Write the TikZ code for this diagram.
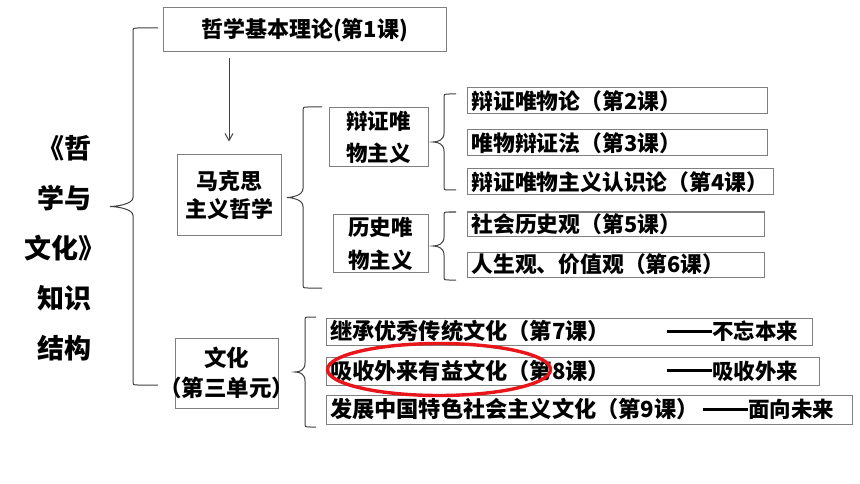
\documentclass[tikz,border=0pt]{standalone}
\usepackage{fontspec}
\setmainfont{Noto Sans CJK SC}[BoldFont=* Black]
\usetikzlibrary{arrows.meta,shapes.geometric}
\definecolor{boxgray}{HTML}{7F7F7F}
\definecolor{bracegray}{HTML}{404040}
\definecolor{hlred}{HTML}{E8161B}
\newcommand{\mybrace}[5]{% #1 xe, #2 xv, #3 xt, #4 yt, #5 yb
  \draw[brc] ({#1},{#4}) -- ({#2+5},{#4}) .. controls ({#2},{#4}) .. ({#2},{#4+5})
    -- ({#2},{(#4+#5)/2-9}) .. controls ({#2},{(#4+#5)/2-2}) and ({#3+5},{(#4+#5)/2}) .. ({#3},{(#4+#5)/2})
    .. controls ({#3+5},{(#4+#5)/2}) and ({#2},{(#4+#5)/2+2}) .. ({#2},{(#4+#5)/2+9})
    -- ({#2},{#5-5}) .. controls ({#2},{#5}) .. ({#2+5},{#5}) -- ({#1},{#5});}
\newcommand{\ddash}{\rule[0.33em]{2.1em}{2.6pt}}
\begin{document}
\begin{tikzpicture}[x=1pt,y=-1pt,
  box/.style={draw=boxgray, line width=1pt, inner sep=0pt, align=center,
    font=\bfseries\fontsize{22}{28}\selectfont},
  lbox/.style={draw=boxgray, line width=1pt, inner ysep=0pt, inner xsep=4.5pt, align=left,
    font=\bfseries\fontsize{21.8}{25}\selectfont},
  cbox/.style={draw=boxgray, line width=1pt, inner ysep=0pt, inner xsep=4pt, align=left,
    font=\bfseries\fontsize{22.2}{25}\selectfont},
  dtext/.style={inner sep=0pt, anchor=west, font=\bfseries\fontsize{21.5}{25}\selectfont},
  brc/.style={draw=bracegray, line width=1pt},
  arr/.style={draw=bracegray, line width=1pt, -{Straight Barb[length=7pt,width=8pt]}}]
\useasboundingbox (0,0) rectangle (860,484);
\fill[white] (0,0) rectangle (860,484);

% title
\node[anchor=east, align=right, inner sep=0pt, font=\bfseries\fontsize{27}{50}\selectfont] (title) at (92,248)
  {《哲\\学与\\文化\makebox[0.5em][l]{》}\\知识\\结构};

% top box and arrow
\node[box, minimum width=283pt, minimum height=44pt] (b1) at (304.5,30) {哲学基本理论(第1课)};
\node[box, minimum width=104pt, minimum height=80pt] (mk) at (229,195) {马克思\\主义哲学};
\draw[arr, shorten <=6pt, shorten >=13pt] (mk.north |- b1.south) -- (mk.north);

% second level
\node[box, minimum width=99pt, minimum height=59pt, font=\bfseries\fontsize{21.5}{32}\selectfont] (dm) at (378.5,137.5) {辩证唯\\物主义};
\node[box, minimum width=95pt, minimum height=58pt, font=\bfseries\fontsize{21.5}{33}\selectfont] (hm) at (380.5,243.5) {历史唯\\物主义};
\node[box, minimum width=103pt, minimum height=70pt, font=\bfseries\fontsize{22.5}{30}\selectfont] (wh) at (226.5,373) {文化\\\makebox[0pt]{（第三单元）}};

% lessons 2-6
\node[lbox, text width=291pt, minimum height=26pt] (s2) at (617,101) {辩证唯物论（第2课）};
\node[lbox, text width=291pt, minimum height=26pt] (s3) at (617,143) {唯物辩证法（第3课）};
\node[lbox, text width=297pt, minimum height=26pt] (s4) at (620,182) {辩证唯物主义认识论（第4课）};
\node[lbox, text width=288pt, minimum height=24pt] (s5) at (615.5,224) {社会历史观（第5课）};
\node[lbox, text width=288pt, minimum height=25pt] (s6) at (615.5,264.5) {人生观、价值观（第6课）};

% lessons 7-9
\node[cbox, text width=478pt, minimum height=27pt] (c7) at (569,331.5) {继承优秀传统文化（第7课）};
\node[cbox, text width=485pt, minimum height=28pt] (c8) at (572.5,371) {吸收外来有益文化（第8课）};
\node[cbox, text width=518pt, minimum height=29pt] (c9) at (589,409.5) {发展中国特色社会主义文化（第9课）};
\node[dtext] (d7) at (667,331.5) {\ddash 不忘本来};
\node[dtext] (d8) at (667,371) {\ddash 吸收外来};
\node[dtext] (d9) at (703,409.5) {\ddash 面向未来};

% braces
\mybrace{158}{133}{110}{28}{385}
\mybrace{322}{303}{287}{107}{288}
\mybrace{456}{444}{433}{94}{190}
\mybrace{456}{444}{433}{212}{280}
\mybrace{316}{305}{295}{317}{427}

% highlight
\node[ellipse, draw=hlred, line width=3.4pt, minimum width=223pt, minimum height=52pt, inner sep=0pt] (hl) at (439,369.5) {};
\end{tikzpicture}
\end{document}
